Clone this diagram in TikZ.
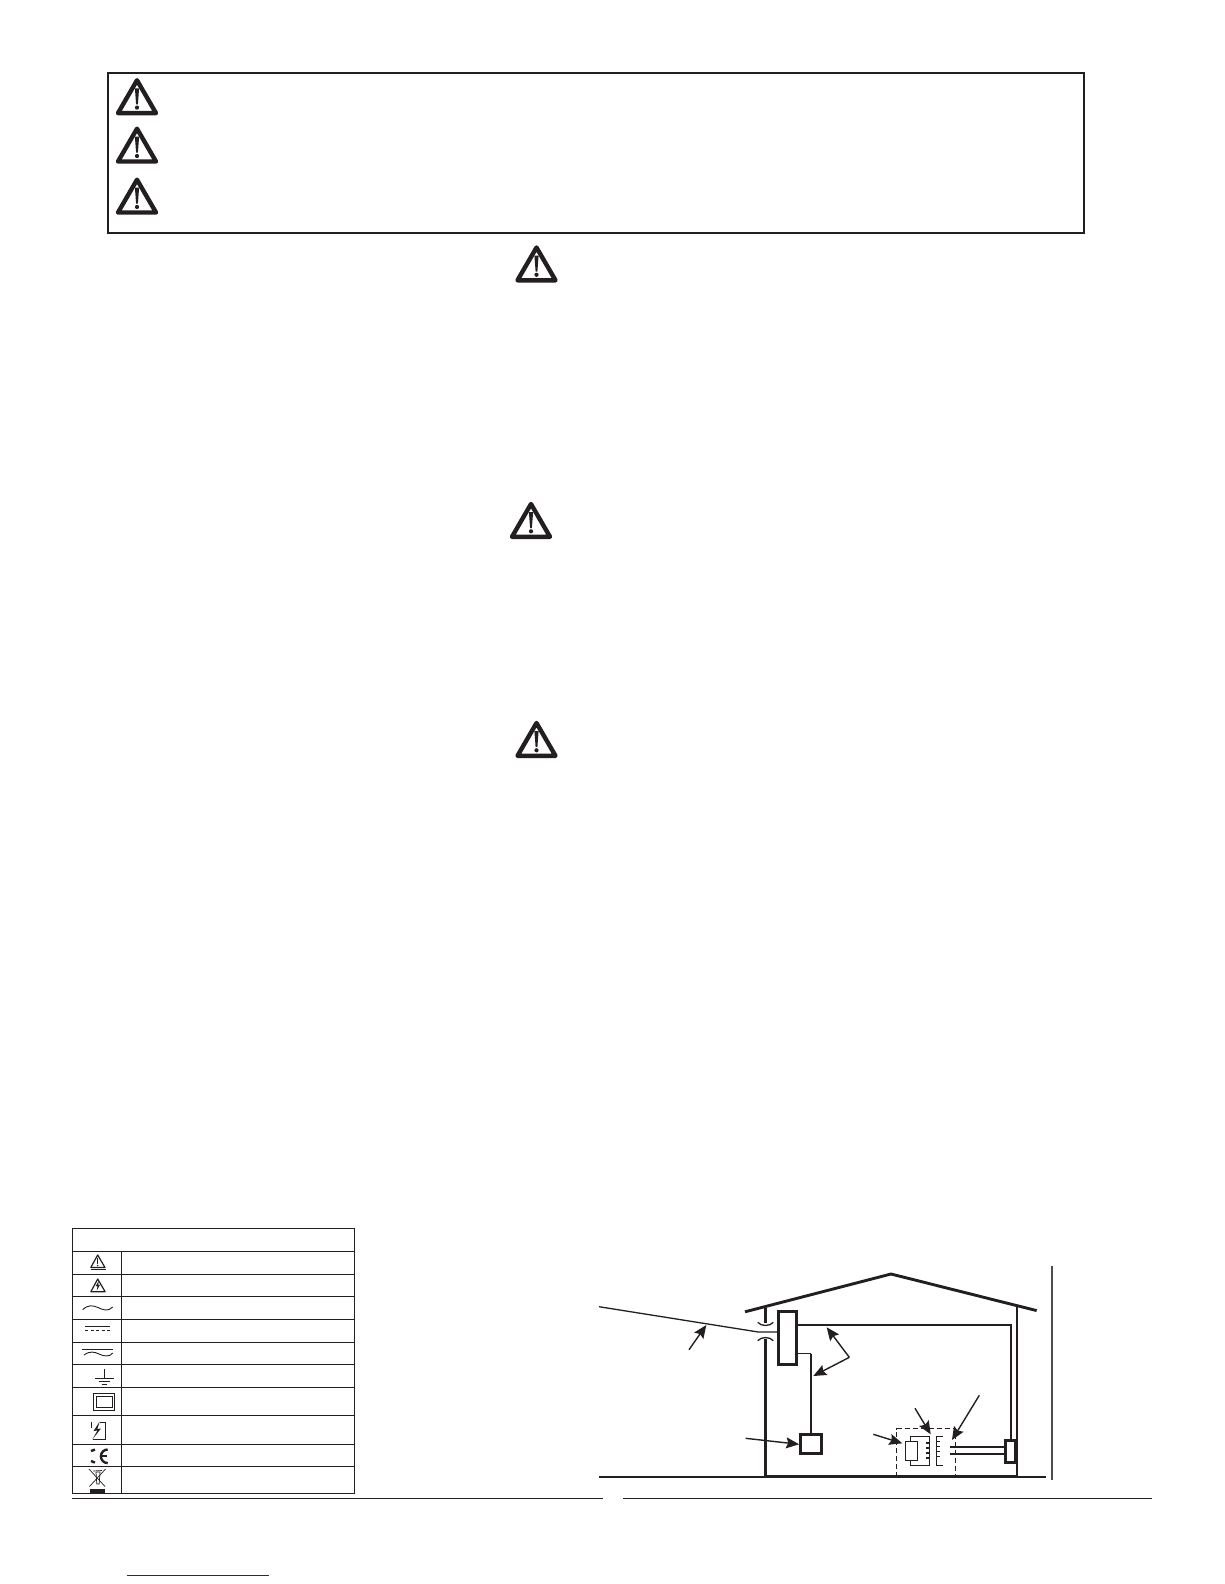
\documentclass[tikz,border=0pt]{standalone}
\usepackage{xcolor}
\usetikzlibrary{arrows.meta, positioning, calc}
\definecolor{inkblack}{RGB}{35, 31, 32}
\definecolor{linkblue}{RGB}{25, 35, 160}
\tikzset{
	boxrule/.style={draw=inkblack, line width=1.9pt},
	tablerule/.style={draw=inkblack, line width=1.2pt},
	symline/.style={draw=inkblack, line width=0.9pt},
	wallline/.style={draw=inkblack, line width=2.9pt},
	wireline/.style={draw=inkblack, line width=1.9pt},
	thinwire/.style={draw=inkblack, line width=1.3pt},
	callout/.style={draw=inkblack, line width=1.4pt, -{Stealth[length=13pt, width=11pt, inset=2pt]}},
	unitbox/.style={rectangle, draw=inkblack, line width=3pt, fill=white, inner sep=0pt},
	warnsign/.pic={
		\draw[draw=inkblack, line width=4.4pt, line join=round] (0,2) -- (19,34.8) -- (-19,34.8) -- cycle;
		\fill[inkblack] (-2.1,10) -- (2.1,10) -- (0.9,26) -- (-0.9,26) -- cycle;
		\fill[inkblack] (0,29.3) circle (2.1pt);
	}
}

\begin{document}
\begin{tikzpicture}[x=1pt, y=-1pt]
	\useasboundingbox (0,0) rectangle (1224,1584);

	% Warning frame at the top
	\draw[boxrule] (107.7,72.7) rectangle (1083.6,232.7);
	\foreach \signx/\signy in {137/78.3, 137/126.7, 137/177.7, 536.5/245.5, 531/502, 536.5/721} {
		\pic at (\signx,\signy) {warnsign};
	}

	% Symbol table
	\draw[tablerule] (72.3,1228.3) rectangle (354.7,1493.3);
	\draw[tablerule] (121.7,1251.3) -- (121.7,1493.3);
	\foreach \rowy in {1251.3,1274.3,1296.3,1319.3,1342.3,1364.3,1387.3,1415.3,1444.3,1466.3} {
		\draw[tablerule] (72.3,\rowy) -- (354.7,\rowy);
	}

	% Row 1: caution
	\draw[draw=inkblack, line width=1.2pt, line join=round] (97.7,1255) -- (105,1267.5) -- (90.8,1267.5) -- cycle;
	\draw[draw=inkblack, line width=1.5pt] (90.5,1269.5) -- (105.5,1269.5);
	\draw[draw=inkblack, line width=1.5pt] (97.7,1258) -- (97.7,1263.5);
	\fill[inkblack] (97.7,1265.5) circle (0.8pt);
	% Row 2: shock
	\draw[draw=inkblack, line width=1.2pt, line join=round] (97.7,1279) -- (105.2,1291.8) -- (90.8,1291.8) -- cycle;
	\fill[inkblack] (98.8,1280.8) -- (95.6,1286.2) -- (97.5,1286) -- (96.8,1290.5) -- (100,1284.8) -- (98.2,1285) -- cycle;
	% Row 3: alternating
	\draw[symline] (82.7,1309.7) .. controls (88,1304.5) and (93,1305.3) .. (98,1307.5) .. controls (103,1309.8) and (108,1312) .. (112.7,1307);
	% Row 4: direct
	\draw[symline] (85,1326.3) -- (110,1326.3);
	\draw[symline, dash pattern=on 3pt off 2.5pt] (85,1330) -- (110,1330);
	% Row 5: both
	\draw[symline] (82,1349.3) -- (113.3,1349.3);
	\draw[symline] (84,1355) .. controls (90,1350.5) and (95,1352) .. (99,1354) .. controls (104,1356.5) and (110,1357) .. (112.7,1353);
	% Row 6: earth
	\draw[symline] (104.3,1369) -- (104.3,1378.3);
	\foreach \barleft/\barright/\bary in {95/114/1378.3, 98.7/110/1381.3, 101.7/107/1384.3} {
		\draw[symline] (\barleft,\bary) -- (\barright,\bary);
	}
	% Row 7: double insulation
	\draw[symline] (93.3,1393.3) rectangle (114.7,1410);
	\draw[symline] (96,1396) rectangle (112,1407.3);
	% Row 8: fuse
	\draw[symline] (99.5,1422.3) -- (105.3,1422.3) -- (105.3,1439) -- (92.5,1439);
	\draw[symline] (91.7,1422.3) -- (91.7,1428);
	\fill[inkblack] (99.8,1421.5) -- (93.5,1431) -- (97.5,1430.5) -- (92.3,1439.5) -- (101,1428.5) -- (97.3,1429) -- cycle;
	% Row 9: conformity mark
	\draw[draw=inkblack, line width=2.4pt] (95,1449.6) -- (91,1451);
	\draw[draw=inkblack, line width=2.4pt] (91,1461) -- (95,1462.6);
	\draw[draw=inkblack, line width=2.4pt] (107.7,1449.5) arc (90:270:6.8pt);
	\draw[draw=inkblack, line width=1.8pt] (101,1456.3) -- (107.3,1456.3);
	% Row 10: crossed bin
	\draw[draw=inkblack, line width=0.7pt] (96,1472) -- (100,1472) -- (99.2,1484) -- (96.8,1484) -- cycle;
	\draw[draw=inkblack, line width=0.7pt] (93,1471) -- (102,1470.5);
	\draw[draw=inkblack, line width=0.7pt] (89,1469) -- (105,1486.5);
	\draw[draw=inkblack, line width=0.7pt] (105.5,1469) -- (89.5,1486.5);
	\fill[inkblack] (90,1489) rectangle (105,1492.5);

	% Rules at the foot of the columns
	\draw[tablerule] (72,1498.6) -- (603,1498.6);
	\draw[tablerule] (623,1498.6) -- (1152,1498.6);
	\draw[draw=linkblue, line width=1.3pt] (127.3,1575.3) -- (269,1575.3);

	% House outline
	\draw[wallline] (745,1311.8) -- (891,1274) -- (1036.7,1310.6);
	\draw[wallline] (765.7,1308.3) -- (765.7,1323);
	\draw[wallline] (765.7,1338.5) -- (765.7,1476.2) -- (1017,1476.2) -- (1017,1306.7);
	\draw[wireline] (599,1476.7) -- (1045.7,1476.7);
	\draw[draw=inkblack!80, line width=1.9pt] (1052,1266) -- (1052,1480);
	% Roof entry marks
	\draw[thinwire] (757.7,1322.3) .. controls (761,1326.5) and (770,1326.5) .. (773.3,1322.3);
	\draw[thinwire] (757.7,1340.7) .. controls (761,1336.5) and (770,1336.5) .. (773.3,1340.7);

	% Boxes in the house
	\node[unitbox, minimum width=17.6pt, minimum height=53.3pt] (panel) at (787.5,1338.3) {};
	\node[unitbox, minimum width=21.3pt, minimum height=19.3pt] (earthbox) at (811.3,1444.3) {};
	\node[unitbox, minimum width=10.3pt, minimum height=22pt] (socket) at (1010.8,1451.3) {};

	% Wiring
	\coordinate (intake) at (599,1306.7);
	\coordinate (intakebend) at (758.3,1332);
	\coordinate (plugtop) at (950,1446.7);
	\coordinate (plugbot) at (950,1454.3);
	\draw[thinwire] (intake) -- (intakebend) -- (intakebend -| panel.west);
	\draw[wireline] (panel.east |- 0,1325) -- (1010.7,1325) -- (socket.north -| 1010.7,0);
	\draw[thinwire] (panel.east |- 0,1353.7) -- (810.7,1353.7);
	\draw[wireline] (810.7,1353.7) -- (earthbox.north -| 810.7,0);
	\draw[wireline] (plugtop) -- (plugtop -| socket.west);
	\draw[wireline] (plugbot) -- (plugbot -| socket.west);

	% Appliance with transformer
	\draw[draw=inkblack, line width=1.4pt, dash pattern=on 5pt off 3pt] (896.7,1476.7) -- (896.7,1428.6) -- (955.3,1428.6) -- (955.3,1476.7);
	\draw[draw=inkblack, line width=1.4pt] (910.7,1441.7) -- (910.7,1436.7) -- (929.3,1436.7) -- (929.3,1465.3) -- (910.7,1465.3) -- (910.7,1460.7);
	\draw[draw=inkblack, line width=1pt] (905.3,1441.7) rectangle (917.3,1460.7);
	\draw[draw=inkblack, line width=1.4pt] (943.3,1436.7) -- (936.3,1436.7) -- (936.3,1465.3) -- (943.3,1465.3);
	\foreach \tickn in {0,1,2,3} {
		\pgfmathsetmacro{\ticky}{1443 + 5*\tickn}
		\pgfmathsetmacro{\tickyb}{1441.5 + 5*\tickn}
		\draw[draw=inkblack, line width=1.2pt] (926,\ticky) -- (929.3,\ticky);
		\draw[draw=inkblack, line width=1.2pt] (936.3,\tickyb) -- (940,\tickyb);
	}

	% Callout arrows
	\coordinate (forkbend) at (849.3,1357.3);
	\draw[callout] (689,1349.7) -- (706.3,1325);
	\draw[callout] (forkbend) -- (826.7,1327.3);
	\draw[callout] (forkbend) -- (813.3,1376);
	\draw[callout] (745.7,1438.3) -- (earthbox.west);
	\draw[callout] (873.3,1434.3) -- (902.3,1443.3);
	\draw[callout] (915,1408.3) -- (930.7,1434.3);
	\draw[callout] (979.3,1395.3) -- (952,1440);

\end{tikzpicture}
\end{document}
